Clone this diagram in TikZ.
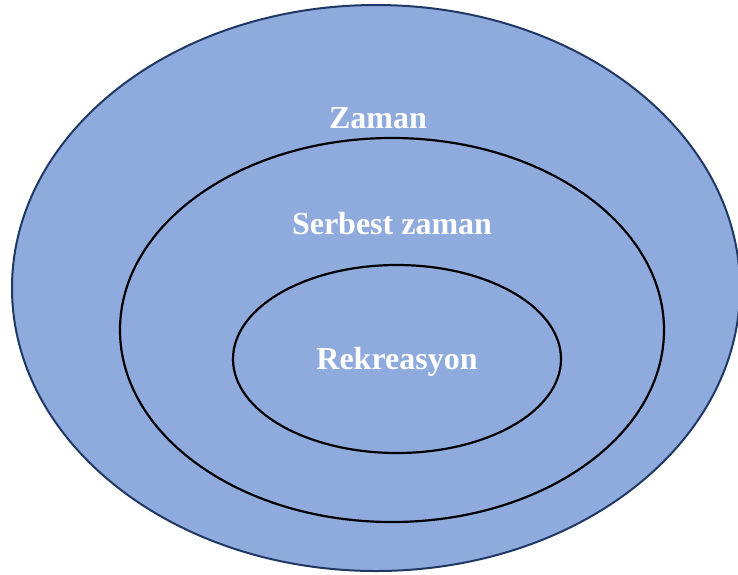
\documentclass[tikz,border=0pt]{standalone}
\usepackage{fontspec}
\setmainfont{Liberation Serif}
\definecolor{zamanfill}{HTML}{8FAADC}
\definecolor{zamanline}{HTML}{203864}
\tikzset{
	ring/.style={draw=black,line width=2.2pt},
	ringlabel/.style={text=white,font=\fontsize{32}{32}\selectfont\bfseries,inner sep=0pt}
}
\begin{document}
\begin{tikzpicture}[x=1pt,y=-1pt]
				\useasboundingbox (0,0) rectangle (738,574);
				\coordinate (Z) at (376,288);
				\coordinate (S) at (392,330);
				\coordinate (R) at (397,359);
				\fill[zamanfill,draw=zamanline,line width=2pt] (Z) ellipse [x radius=364,y radius=283];
				\draw[ring] (S) ellipse [x radius=272,y radius=192];
				\draw[ring] (R) ellipse [x radius=164,y radius=94];
				\node[ringlabel] (zaman) at (378,118) {Zaman};
				\node[ringlabel] (serbest) at (392,224) {Serbest zaman};
				\node[ringlabel] (rekreasyon) at (397,362) {Rekreasyon};
			\end{tikzpicture}
\end{document}
